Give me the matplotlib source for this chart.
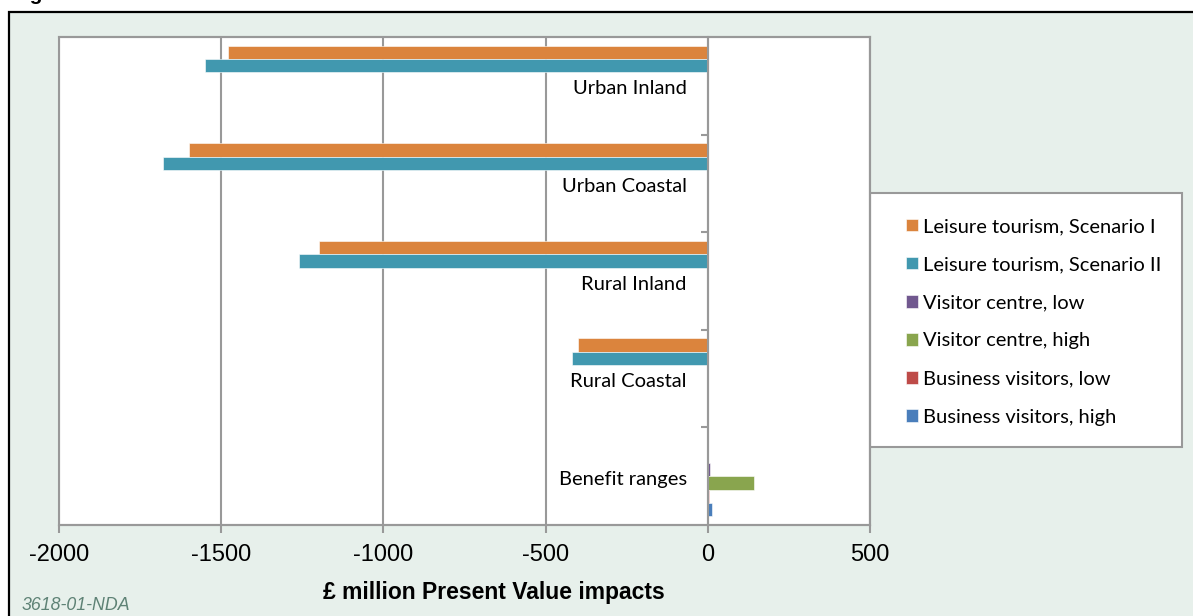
import numpy as np
import matplotlib.pyplot as plt
from matplotlib.patches import Rectangle

# Data
categories = ['Urban Inland', 'Urban Coastal', 'Rural Inland', 'Rural Coastal', 'Benefit ranges']
series_names = ['Leisure tourism, Scenario I', 'Leisure tourism, Scenario II',
                'Visitor centre, low', 'Visitor centre, high',
                'Business visitors, low', 'Business visitors, high']
leisure_1 = [-1480, -1600, -1200, -400, 0]
leisure_2 = [-1550, -1680, -1260, -420, 0]
visitor_low = [0, 0, 0, 0, 6]
visitor_high = [0, 0, 0, 0, 142]
business_low = [0, 0, 0, 0, 4]
business_high = [0, 0, 0, 0, 12]
xticks = [-2000, -1500, -1000, -500, 0, 500]

series = [leisure_1, leisure_2, visitor_low, visitor_high, business_low, business_high]
colors = ['#DB843D', '#4198AF', '#71588F', '#89A54E', '#BE4B48', '#4A7EBB']

bg = '#E7F0EB'
grey = '#999999'
label_font = ['Lato', 'DejaVu Sans']

fig = plt.figure(figsize=(11.93, 6.16), dpi=100, facecolor='white')

# outer panel with black frame
fig.patches.append(Rectangle((9 / 1193, -0.05), 1.1, (616 - 12) / 616 + 0.05,
                             transform=fig.transFigure, facecolor=bg,
                             edgecolor='black', linewidth=1.6, zorder=-2))
# cut-off figure title at the very top
fig.text(12 / 1193, 1 - 0 / 616, 'Figure', fontsize=15, fontweight='bold',
         family='Liberation Sans', va='baseline', ha='left')

ax = fig.add_axes([59 / 1193, (616 - 525) / 616, (870 - 59) / 1193, (525 - 37) / 616])
ax.set_facecolor('white')

y = np.arange(len(categories))
h = 0.1375
for j, (vals, c, name) in enumerate(zip(series, colors, series_names)):
    ax.barh(y + (j - 2.5) * h, vals, height=h, color=c, label=name,
            edgecolor='white', linewidth=0.4, zorder=3)

ax.set_xlim(-2000, 500)
ax.set_ylim(len(categories) - 0.5, -0.5)
ax.set_xticks(xticks)
ax.set_xticklabels([str(t) for t in xticks], family='Liberation Sans', fontsize=17)
ax.tick_params(axis='x', direction='out', length=6, width=1.5, color=grey, pad=8)
ax.grid(axis='x', color=grey, linewidth=1.5, zorder=1)
ax.set_axisbelow(True)

# vertical axis sits at zero, ticks between categories
ax.spines['left'].set_position(('data', 0))
ax.spines['left'].set_zorder(4)
ax.set_yticks(np.arange(len(categories) - 1) + 0.5)
ax.set_yticklabels([])
ax.tick_params(axis='y', direction='out', length=5, width=1.5, color=grey)
for s in ax.spines.values():
    s.set_color(grey)
    s.set_linewidth(1.5)
ax.patch.set_edgecolor(grey)
ax.patch.set_linewidth(1.5)

for i, cat in enumerate(categories):
    ax.annotate(cat, xy=(0, i), xytext=(-21, -3), textcoords='offset pixels',
                ha='right', va='center', fontsize=14.5, family=label_font, zorder=5)

ax.set_xlabel('£ million Present Value impacts', family='Liberation Sans',
              fontsize=16.5, fontweight='bold')
ax.xaxis.set_label_coords((494 - 59) / 811, -0.115)

# legend box
lx0, ly0, lx1, ly1 = 870, 193, 1182, 447
fig.patches.append(Rectangle((lx0 / 1193, (616 - ly1) / 616), (lx1 - lx0) / 1193,
                             (ly1 - ly0) / 616, transform=fig.transFigure,
                             facecolor='white', edgecolor=grey, linewidth=1.5, zorder=-1))
leg = fig.legend(loc='upper left', bbox_to_anchor=(906 / 1193, (616 - 218) / 616),
                 frameon=False, prop={'family': label_font, 'size': 14.5},
                 handlelength=0.6, handleheight=0.6, handletextpad=0.25,
                 labelspacing=1.05, borderpad=0, borderaxespad=0)

fig.text(22 / 1193, 1 - 606 / 616, '3618-01-NDA', family='Liberation Sans',
         style='italic', fontsize=12.8, color='#5E8275', va='center')

plt.savefig('out.png', dpi=100, facecolor=fig.get_facecolor())
